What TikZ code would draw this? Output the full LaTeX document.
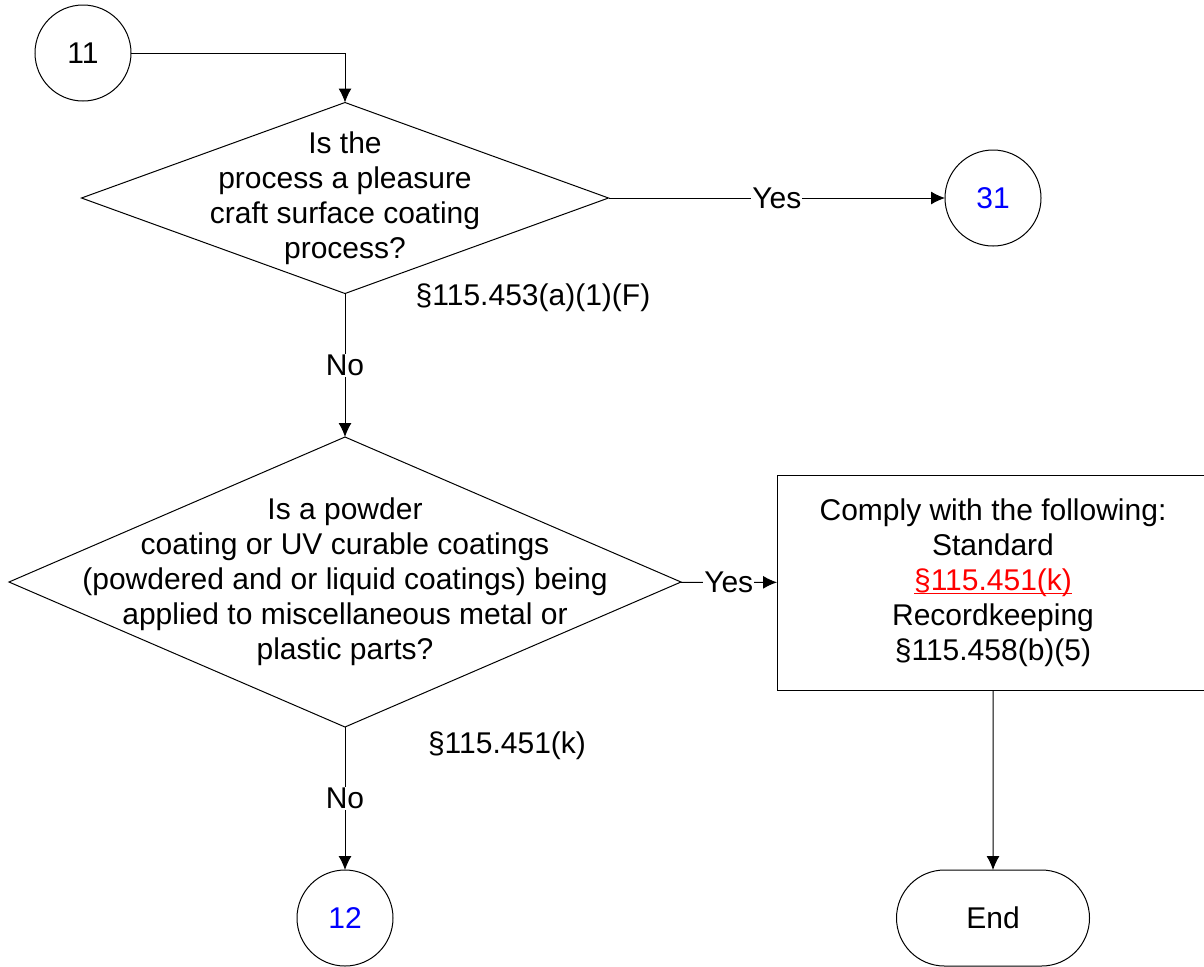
\documentclass[tikz,border=0pt]{standalone}
\usepackage{fontspec}
\setmainfont{Liberation Sans}
\usetikzlibrary{arrows.meta,shapes.geometric,shapes.misc}
% red underlined reference, as a link
\newcommand{\reflink}[1]{{\color{red}\setbox0\hbox{#1}\rlap{\rule[-2pt]{\wd0}{0.6pt}}\box0}}

\begin{document}
\begin{tikzpicture}[x=0.5pt,y=-0.5pt,->,>={Latex[length=7pt,width=6.5pt]},line width=0.5pt,
  every node/.style={font=\fontsize{15}{17.5}\selectfont,align=center},
  conn node/.style={circle,draw,minimum size=48pt,inner sep=0pt,outer sep=0pt},
  decision/.style={diamond,draw,inner sep=0pt,outer sep=0pt},
  action/.style={rectangle,draw,minimum width=216pt,minimum height=107.5pt,inner sep=0pt,outer sep=0pt},
  end node/.style={rounded rectangle,draw,minimum width=96.5pt,minimum height=48pt,inner sep=0pt,outer sep=0pt},
  answer/.style={fill=white,inner sep=0.5pt}]

\useasboundingbox (0,0) rectangle (1204,966);

\node[conn node] (C11) at (83,53) {11};
\node[decision,minimum width=263.5pt,minimum height=95.5pt] (Q1) at (345,198) {};
\node at (Q1) {Is the\\process a pleasure\\craft surface coating\\process?};
\node[conn node,text=blue] (C31) at (993,198) {31};
\node at (533,298) {\S115.453(a)(1)(F)};

\node[decision,minimum width=336pt,minimum height=145pt] (Q2) at (345,582) {};
\node at (Q2) {Is a powder\\coating or UV curable coatings\\(powdered and or liquid coatings) being\\applied to miscellaneous metal or\\plastic parts?};
\node at (507,746) {\S115.451(k)};

\node[action] (Comply) at (993,582.5) {Comply with the following:\\Standard\\\reflink{\S115.451(k)}\\Recordkeeping\\\S115.458(b)(5)};

\node[conn node,text=blue] (C12) at (345,918) {12};
\node[end node] (End) at (993,918) {End};

\draw (C11) -| (Q1);
\path
(Q1) edge node[answer] {Yes} (C31)
(Q1) edge node[answer] {No} (Q2)
(Q2) edge node[answer] {Yes} (Comply)
(Q2) edge node[answer] {No} (C12)
(Comply) edge (End);

\end{tikzpicture}
\end{document}
